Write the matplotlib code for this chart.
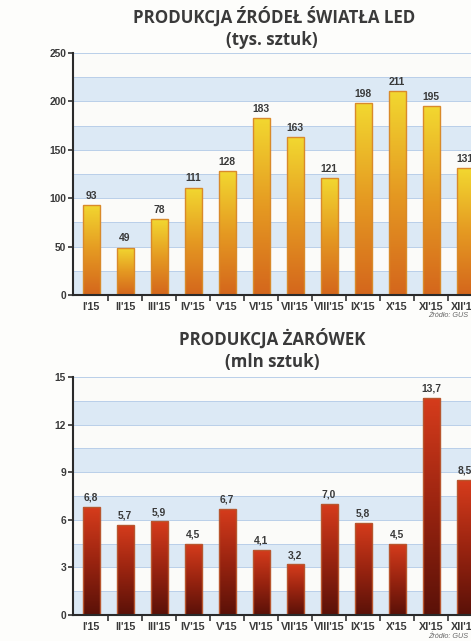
import numpy as np
import matplotlib
import matplotlib.pyplot as plt
from matplotlib.colors import LinearSegmentedColormap

matplotlib.use("Agg")

months = ["I'15", "II'15", "III'15", "IV'15", "V'15", "VI'15",
          "VII'15", "VIII'15", "IX'15", "X'15", "XI'15", "XII'15"]
led_values = [93, 49, 78, 111, 128, 183, 163, 121, 198, 211, 195, 131]
bulb_values = [6.8, 5.7, 5.9, 4.5, 6.7, 4.1, 3.2, 7.0, 5.8, 4.5, 13.7, 8.5]

W, H = 471, 641
TXT = "#3a3a3a"
BAND = "#dce9f5"
GRID = "#b9cfe9"


def gradient_bars(ax, values, colors, edge):
    x = np.arange(len(values))
    bars = ax.bar(x, values, width=0.5, color="none", edgecolor=edge,
                  linewidth=1.0, zorder=3)
    cmap = LinearSegmentedColormap.from_list("g", colors)
    grad = np.linspace(0, 1, 256).reshape(-1, 1)
    for b in bars:
        x0, y0 = b.get_x(), b.get_y()
        w, h = b.get_width(), b.get_height()
        im = ax.imshow(grad, cmap=cmap, origin="lower", aspect="auto",
                       extent=[x0, x0 + w, y0, y0 + h], zorder=2)
        im.set_clip_path(b)
    return bars


def style_axes(ax, ymax, step, labels_fmt, values):
    n = len(months)
    ax.set_xlim(-0.53, n - 0.47)
    ax.set_ylim(0, ymax)
    # pasy naprzemienne co pół kroku
    half = step / 2
    k = 0
    y = 0
    while y < ymax - 1e-9:
        if k % 2 == 0:
            ax.axhspan(y, y + half, color=BAND, zorder=0, lw=0)
        ax.axhline(y + half, color=GRID, lw=0.7, zorder=1)
        y += half
        k += 1
    ax.set_facecolor("#fbfbf9")
    ax.set_yticks(np.arange(0, ymax + step / 10, step))
    ax.set_xticks(np.arange(n))
    ax.set_xticklabels(months)
    ax.set_xticks(np.arange(n - 1) + 0.5, minor=True)
    ax.tick_params(axis="x", which="major", length=0, pad=5,
                   labelsize=7.8, labelcolor=TXT)
    ax.tick_params(axis="x", which="minor", length=4, width=1.2,
                   color="#333333", direction="out")
    ax.tick_params(axis="y", length=3.5, width=1.2, color="#333333",
                   labelsize=7.4, labelcolor=TXT, pad=1.5)
    for lab in ax.get_xticklabels() + ax.get_yticklabels():
        lab.set_fontweight("bold")
        lab.set_family("Liberation Sans")
    for s in ["top", "right"]:
        ax.spines[s].set_visible(False)
    for s in ["left", "bottom"]:
        ax.spines[s].set_color("#2a2a2a")
        ax.spines[s].set_linewidth(1.5)
        ax.spines[s].set_zorder(5)
    for i, v in enumerate(values):
        ax.annotate(labels_fmt(v), (i, v), xytext=(0, 3),
                    textcoords="offset points", ha="center", va="bottom",
                    fontsize=7.4, fontweight="bold", color=TXT,
                    family="Liberation Sans", zorder=6)


fig = plt.figure(figsize=(W / 100, H / 100), dpi=100)
fig.patch.set_facecolor("#fdfdfb")

x_left = 73 / W
x_right = (73 + 12.06 * 34) / W

# wykres górny - LED
ax1 = fig.add_axes([x_left, 1 - 295 / H, x_right - x_left, 242 / H])
gradient_bars(ax1, led_values, ["#d4661c", "#e59a22", "#f2d830"], "#d98a2a")
style_axes(ax1, 250, 50, lambda v: str(v), led_values)

# wykres dolny - żarówki
ax2 = fig.add_axes([x_left, 1 - 615 / H, x_right - x_left, 238 / H])
gradient_bars(ax2, bulb_values, ["#5a1108", "#9a2410", "#d63c1c"], "#b8562e")
style_axes(ax2, 15, 3, lambda v: f"{v:.1f}".replace(".", ","), bulb_values)

title_kw = dict(ha="center", va="center", fontsize=12.2, fontweight="bold",
                color=TXT, family="Open Sans")
fig.text(274 / W, 1 - 17 / H, "PRODUKCJA ŹRÓDEŁ ŚWIATŁA LED", **title_kw)
fig.text(272 / W, 1 - 40 / H, "(tys. sztuk)", **title_kw)
fig.text(272 / W, 1 - 339 / H, "PRODUKCJA ŻARÓWEK", **title_kw)
fig.text(272 / W, 1 - 362 / H, "(mln sztuk)", **title_kw)

src_kw = dict(ha="left", va="center", fontsize=5.2, style="italic",
              color="#666666", family="Liberation Sans")
fig.text(428 / W, 1 - 316 / H, "Źródło: GUS", **src_kw)
fig.text(428 / W, 1 - 637 / H, "Źródło: GUS", **src_kw)

fig.savefig("out.png", dpi=100, facecolor=fig.get_facecolor())
